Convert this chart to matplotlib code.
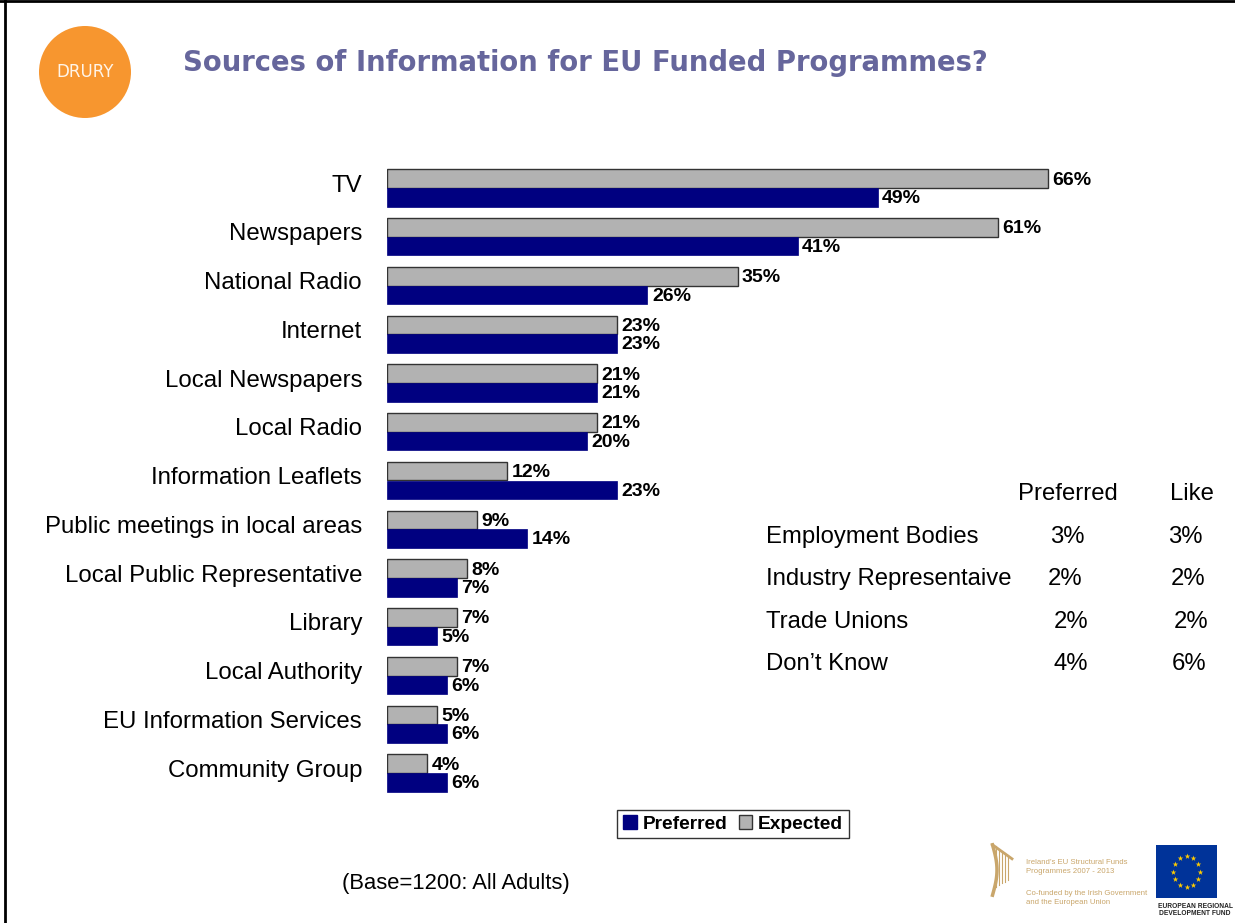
import numpy as np
import matplotlib
matplotlib.use("Agg")
import matplotlib.pyplot as plt
from matplotlib.patches import Patch, Ellipse
from matplotlib.lines import Line2D

plt.rcParams['font.family'] = ['Liberation Sans', 'DejaVu Sans']

# ---------------- data ----------------
categories = ["TV", "Newspapers", "National Radio", "Internet", "Local Newspapers",
              "Local Radio", "Information Leaflets", "Public meetings in local areas",
              "Local Public Representative", "Library", "Local Authority",
              "EU Information Services", "Community Group"]
expected = [66, 61, 35, 23, 21, 21, 12, 9, 8, 7, 7, 5, 4]
preferred = [49, 41, 26, 23, 21, 20, 23, 14, 7, 5, 6, 6, 6]

table_rows = ["Employment Bodies", "Industry Representaive", "Trade Unions", "Don\u2019t Know"]
table_preferred = ["3%", "2%", "2%", "4%"]
table_like = ["3%", "2%", "2%", "6%"]

title = "Sources of Information for EU Funded Programmes?"
base_note = "(Base=1200: All Adults)"

W, H = 1235, 923
fig = plt.figure(figsize=(W / 100, H / 100), dpi=100)

def fx(px):
    return px / W

def fy(py):
    return 1 - py / H

# ---------------- bar axes ----------------
ax_top_px, ax_bot_px = 160, 800
ax = fig.add_axes([fx(387), fy(ax_bot_px), fx(1088) - fx(387), (ax_bot_px - ax_top_px) / H])
n = len(categories)
pos = np.arange(n)
h = 0.38
ax.barh(pos - h / 2, expected, height=h, color="#B2B2B2", edgecolor="#333333", linewidth=1.0)
ax.barh(pos + h / 2, preferred, height=h, color="#000080", edgecolor="#000080", linewidth=0.5)
ax.set_xlim(0, 70)
y0 = (ax_top_px - 188) / 48.75
y1 = (ax_bot_px - 188) / 48.75
ax.set_ylim(y1, y0)
for s in ax.spines.values():
    s.set_visible(False)
ax.set_xticks([])
ax.set_yticks(pos - 0.1)
ax.set_yticklabels(categories, fontsize=17.3, color="black")
ax.tick_params(axis="y", length=0, pad=18)

for i in range(n):
    ax.text(expected[i] + 0.45, pos[i] - h / 2 + 0.03, f"{expected[i]}%", va="center", ha="left",
            fontsize=14, fontweight="bold", color="black")
    ax.text(preferred[i] + 0.45, pos[i] + h / 2 + 0.03, f"{preferred[i]}%", va="center", ha="left",
            fontsize=14, fontweight="bold", color="black")

# legend
handles = [Patch(facecolor="#000080", edgecolor="#000080"),
           Patch(facecolor="#B2B2B2", edgecolor="#333333")]
leg = fig.legend(handles, ["Preferred", "Expected"], loc="center",
                 bbox_to_anchor=(fx(733), fy(824)), ncol=2, frameon=True,
                 prop={"weight": "bold", "size": 13.8}, handlelength=0.7, handleheight=0.7,
                 handletextpad=0.3, columnspacing=0.6, borderpad=0.3, fancybox=False)
leg.get_frame().set_edgecolor("black")
leg.get_frame().set_linewidth(1.0)

# ---------------- title & logo ----------------
fig.text(fx(183), fy(63), title, ha="left", va="center", fontsize=19.8, fontweight="bold",
         color="#66669C", family=["DejaVu Sans"])
fig.patches.append(Ellipse((fx(85), fy(72)), 92 / W, 92 / H, transform=fig.transFigure,
                           facecolor="#F7962F", edgecolor="none"))
fig.text(fx(85), fy(72), "DRURY", ha="center", va="center", fontsize=12, color="#FFF4E8",
         family=["DejaVu Sans"])

# ---------------- side table ----------------
fs_t = 17.2
fig.text(fx(1018), fy(494), "Preferred", ha="left", va="center", fontsize=fs_t)
fig.text(fx(1170), fy(494), "Like", ha="left", va="center", fontsize=fs_t)
row_y = [537, 579, 622, 664]
pref_x = [1050, 1048, 1054, 1053]
like_x = [1168, 1171, 1174, 1172]
for r, yy, px1, px2, vp, vl in zip(table_rows, row_y, pref_x, like_x, table_preferred, table_like):
    fig.text(fx(766), fy(yy), r, ha="left", va="center", fontsize=fs_t)
    fig.text(fx(px1), fy(yy), vp, ha="left", va="center", fontsize=fs_t)
    fig.text(fx(px2), fy(yy), vl, ha="left", va="center", fontsize=fs_t)

# base note
fig.text(fx(342), fy(883), base_note, ha="left", va="center", fontsize=15.8)

# ---------------- footer logos ----------------
gold = "#C9A66B"
fig.text(fx(1026), fy(867), "Ireland\u2019s EU Structural Funds\nProgrammes 2007 - 2013", ha="left",
         va="center", fontsize=5.6, color=gold, linespacing=1.3)
fig.text(fx(1026), fy(898), "Co-funded by the Irish Government\nand the European Union", ha="left",
         va="center", fontsize=5.6, color=gold, linespacing=1.3)
# harp (simple emblem)
hp = fig.add_axes([fx(985), fy(898), fx(30), 56 / H])
hp.set_xlim(0, 1); hp.set_ylim(0, 1); hp.axis("off")
tt = np.linspace(0, 1, 30)
hp.plot(0.25 + 0.15 * np.sin(tt * np.pi), 0.05 + 0.9 * tt, color=gold, lw=2.5)
hp.plot([0.25, 0.9], [0.95, 0.7], color=gold, lw=2)
for k in range(5):
    xx = 0.35 + 0.1 * k
    hp.plot([xx, xx], [0.2 + 0.03 * k, 0.92 - 0.04 * k], color=gold, lw=0.8)

# EU flag
fl = fig.add_axes([fx(1156), fy(898), fx(1217) - fx(1156), 53 / H])
fl.set_facecolor("#003399")
fl.set_xlim(-1.6, 1.6); fl.set_ylim(-1.2, 1.2)
fl.set_xticks([]); fl.set_yticks([])
for s in fl.spines.values():
    s.set_visible(False)
ang = np.arange(12) * np.pi / 6
fl.scatter(0.7 * np.cos(ang), 0.7 * np.sin(ang), marker="*", s=18, color="#FFCC00", linewidths=0)
fig.text(fx(1195), fy(910), "EUROPEAN REGIONAL\nDEVELOPMENT FUND", ha="center", va="center",
         fontsize=4.8, fontweight="bold", color="#222222", linespacing=1.1)

# slide border
fig.add_artist(Line2D([0, 1], [fy(1), fy(1)], transform=fig.transFigure, color="black", lw=2))
fig.add_artist(Line2D([fx(5), fx(5)], [0, 1], transform=fig.transFigure, color="black", lw=2))

fig.savefig("out.png", dpi=100)
